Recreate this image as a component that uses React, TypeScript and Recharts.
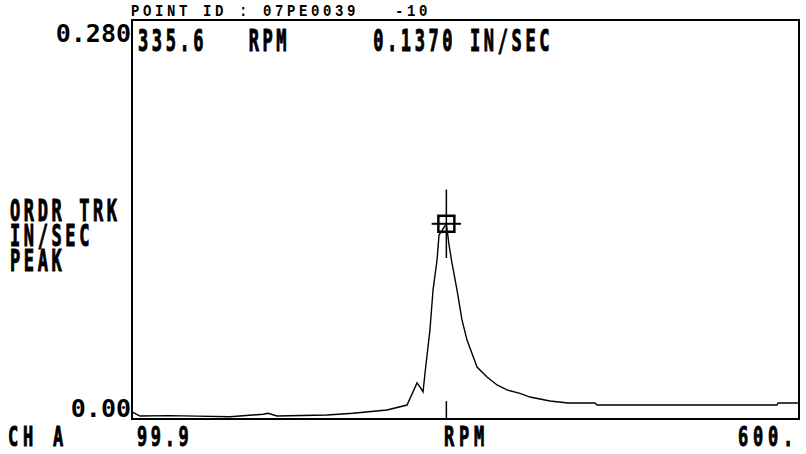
import React from "react";
import {
  LineChart,
  Line,
  XAxis,
  YAxis,
  ReferenceArea,
  ReferenceLine,
  ReferenceDot,
} from "recharts";

// order track sweep
const rpm = [
  99.9, 105.9, 128.4, 148.6, 173.4, 198.1, 201.9, 208.6, 246.1, 265.6, 291.1,
  306.1, 313.6, 315.8, 318.1, 319.6, 323.3, 325.6, 328.6, 330.1, 335.6, 337.6,
  339.8, 343.6, 347.3, 351.1, 358.6, 366.1, 373.6, 381.1, 390.8, 398.3, 413.3,
  426.8, 447.1, 448.6, 583.5, 584.3, 600,
];
const inSec = [
  0.005, 0.0021, 0.0024, 0.002, 0.0016, 0.0033, 0.004, 0.0021, 0.0028, 0.004,
  0.0063, 0.0098, 0.0253, 0.0225, 0.019, 0.0323, 0.0625, 0.0905, 0.1116,
  0.1291, 0.137, 0.1221, 0.1095, 0.0905, 0.0695, 0.0554, 0.0365, 0.0295,
  0.0239, 0.0204, 0.018, 0.0154, 0.0126, 0.0112, 0.0112, 0.0098, 0.0098,
  0.0112, 0.0112,
];
const xTicks = [148.9, 198.0, 247.0, 296.1, 345.1, 394.1, 443.2, 492.2, 541.3, 590.3];
const yTicks = [0.028, 0.056, 0.084, 0.112, 0.14, 0.168, 0.196, 0.224, 0.252];
const cursorRpm = 335.6;
const cursorVal = 0.137;

const data = rpm.map((r, i) => ({ rpm: r, v: inSec[i] }));

const W = 806;
const H = 454;
const margin = { top: 20, right: 7, bottom: 35, left: 132 };

const XTick = (props: any) => (
  <line x1={props.x} x2={props.x} y1={props.y} y2={props.y - 9} stroke="#000" strokeWidth={1.5} />
);
const YTick = (props: any) => (
  <line
    x1={props.x - (props.index % 2 ? 5 : 3)}
    x2={props.x + 4}
    y1={props.y}
    y2={props.y}
    stroke="#000"
    strokeWidth={1.5}
  />
);

// tall narrow screen font (DejaVu Sans Mono stretched vertically)
// y = top of the capitals
function Tall({ x, y, children, size = 17, sy = 1.77, ls = 3.6, lh = 1 }: any) {
  const capTop = ((lh - 1.164) / 2 + 0.199) * size * sy;
  return (
    <div
      style={{
        position: "absolute",
        left: x,
        top: y - capTop,
        fontFamily: "'DejaVu Sans Mono', monospace",
        fontWeight: 700,
        fontSize: size,
        lineHeight: lh,
        letterSpacing: ls,
        whiteSpace: "pre",
        transform: `scaleY(${sy})`,
        transformOrigin: "0 0",
        color: "#000",
        WebkitTextStroke: "0.6px #000",
      }}
    >
      {children}
    </div>
  );
}

function Num({ right, y, children }: any) {
  return (
    <div
      style={{
        position: "absolute",
        right: W - right,
        top: y - 3,
        fontFamily: "'DejaVu Sans Mono', monospace",
        fontWeight: 700,
        fontSize: 25,
        lineHeight: 1,
        whiteSpace: "pre",
        color: "#000",
      }}
    >
      {children}
    </div>
  );
}

const CursorBox = (props: any) => (
  <rect x={props.cx - 8} y={props.cy - 8} width={16} height={16} fill="none" stroke="#000" strokeWidth={2.5} />
);

export default function App() {
  return (
    <div style={{ position: "fixed", left: 0, top: 0, width: W, height: H, background: "#fff", overflow: "hidden" }}>
      <LineChart width={W} height={H} data={data} margin={margin}>
        <XAxis
          dataKey="rpm"
          type="number"
          domain={[99.9, 600]}
          ticks={xTicks}
          allowDataOverflow
          height={0}
          tickSize={0}
          tickMargin={0}
          tickLine={false}
          tick={XTick}
          axisLine={{ stroke: "#000", strokeWidth: 2.5 }}
        />
        <YAxis
          type="number"
          domain={[0, 0.28]}
          ticks={yTicks}
          allowDataOverflow
          width={0}
          tickSize={0}
          tickMargin={0}
          tickLine={false}
          tick={YTick}
          axisLine={{ stroke: "#000", strokeWidth: 2 }}
        />
        <ReferenceArea x1={99.9} x2={600} y1={0} y2={0.28} fill="none" stroke="#000" strokeWidth={2} />
        <Line
          dataKey="v"
          type="linear"
          stroke="#000"
          strokeWidth={1.4}
          dot={false}
          isAnimationActive={false}
        />
        <ReferenceLine
          segment={[
            { x: cursorRpm, y: cursorVal - 0.024 },
            { x: cursorRpm, y: cursorVal + 0.024 },
          ]}
          stroke="#000"
          strokeWidth={1.5}
        />
        <ReferenceLine
          segment={[
            { x: cursorRpm - 11, y: cursorVal },
            { x: cursorRpm + 11, y: cursorVal },
          ]}
          stroke="#000"
          strokeWidth={2}
        />
        <ReferenceLine
          segment={[
            { x: cursorRpm, y: 0 },
            { x: cursorRpm, y: 0.0125 },
          ]}
          stroke="#000"
          strokeWidth={1.5}
        />
        <ReferenceDot x={cursorRpm} y={cursorVal} shape={CursorBox} />
      </LineChart>

      <div
        style={{
          position: "absolute",
          left: 131,
          top: 3,
          fontFamily: "'Liberation Mono', monospace",
          fontWeight: 700,
          fontSize: 14,
          lineHeight: 1,
          letterSpacing: 3.6,
          whiteSpace: "pre",
          transform: "scaleY(1.2)",
          transformOrigin: "0 0",
        }}
      >
        POINT ID : 07PE0039   -10
      </div>
      <Tall x={138} y={30}>{"335.6   RPM      0.1370 IN/SEC"}</Tall>

      <Num right={131} y={24}>0.280</Num>
      <Num right={131} y={399}>0.00</Num>

      <Tall x={10} y={199} lh={0.83}>{"ORDR TRK\nIN/SEC\nPEAK"}</Tall>

      <Tall x={8} y={426} sy={1.61} ls={4.8}>CH A</Tall>
      <Tall x={137} y={426} sy={1.61}>99.9</Tall>
      <Tall x={444} y={426} sy={1.61} ls={4.8}>RPM</Tall>
      <Tall x={738} y={426} sy={1.61} ls={4.8}>600.</Tall>
    </div>
  );
}
